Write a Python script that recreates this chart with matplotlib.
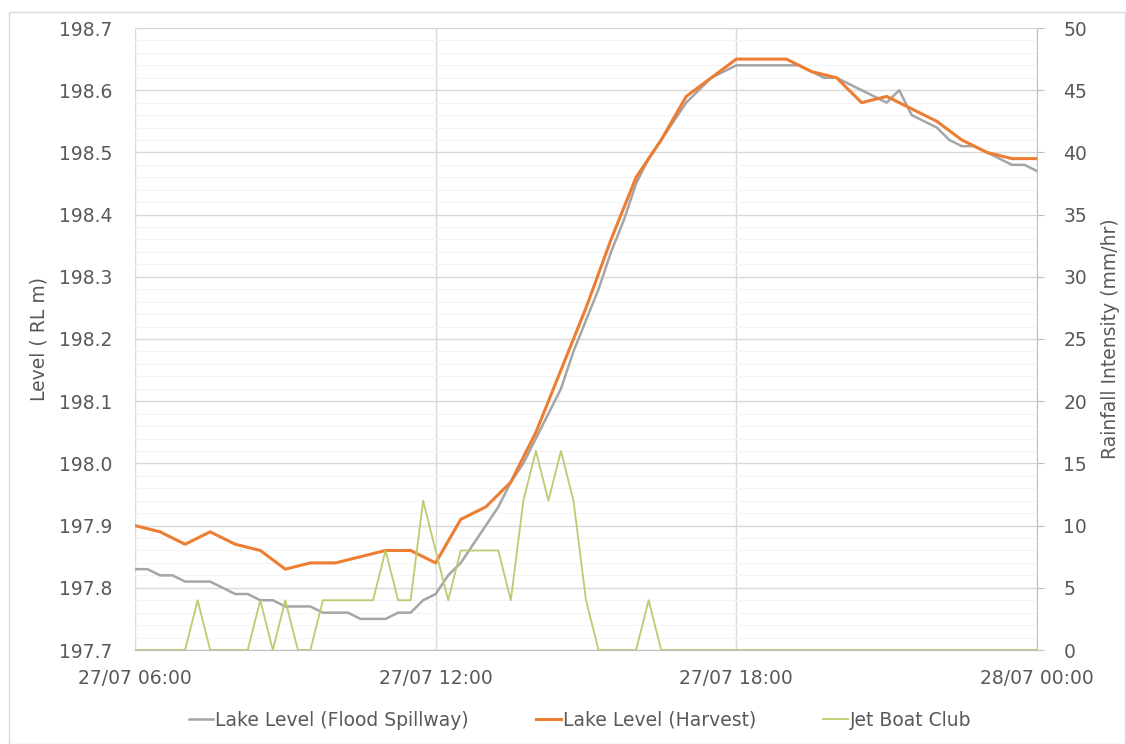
import matplotlib
matplotlib.use('Agg')
import matplotlib.pyplot as plt
import matplotlib.dates as mdates
import pandas as pd
from matplotlib.patches import Rectangle

# lake level, Flood Spillway gauge (15 min)
spillway = [197.83, 197.83, 197.82, 197.82, 197.81, 197.81, 197.81, 197.80, 197.79, 197.79,
            197.78, 197.78, 197.77, 197.77, 197.77, 197.76, 197.76, 197.76, 197.75, 197.75,
            197.75, 197.76, 197.76, 197.78, 197.79, 197.82, 197.84, 197.87, 197.90, 197.93,
            197.97, 198.00, 198.04, 198.08, 198.12, 198.18, 198.23, 198.28, 198.34, 198.39,
            198.45, 198.49, 198.52, 198.55, 198.58, 198.60, 198.62, 198.63, 198.64, 198.64,
            198.64, 198.64, 198.64, 198.64, 198.63, 198.62, 198.62, 198.61, 198.60, 198.59,
            198.58, 198.60, 198.56, 198.55, 198.54, 198.52, 198.51, 198.51, 198.50, 198.49,
            198.48, 198.48, 198.47]

# lake level, Harvest gauge (30 min)
harvest = [197.90, 197.89, 197.87, 197.89, 197.87, 197.86, 197.83, 197.84, 197.84, 197.85,
           197.86, 197.86, 197.84, 197.91, 197.93, 197.97, 198.05, 198.15, 198.25, 198.36,
           198.46, 198.52, 198.59, 198.62, 198.65, 198.65, 198.65, 198.63, 198.62, 198.58,
           198.59, 198.57, 198.55, 198.52, 198.50, 198.49, 198.49]

# rainfall intensity, Jet Boat Club (15 min)
rain = [0, 0, 0, 0, 0, 4, 0, 0, 0, 0, 4, 0, 4, 0, 0, 4, 4, 4, 4, 4,
        8, 4, 4, 12, 8, 4, 8, 8, 8, 8, 4, 12, 16, 12, 16, 12, 4, 0, 0, 0,
        0, 4, 0, 0, 0, 0, 0, 0, 0, 0, 0, 0, 0, 0, 0, 0, 0, 0, 0, 0,
        0, 0, 0, 0, 0, 0, 0, 0, 0, 0, 0, 0, 0]

t15 = pd.date_range('2017-07-27 06:00', periods=len(spillway), freq='15min')
t30 = pd.date_range('2017-07-27 06:00', periods=len(harvest), freq='30min')

txt = '#595959'
plt.rcParams['font.family'] = ['DejaVu Sans']

fig = plt.figure(figsize=(11.26, 7.44), dpi=100)
fig.patches.append(Rectangle((9/1126, 0), 1116/1126, 1 - 12/744, transform=fig.transFigure,
                             fill=False, edgecolor='#d9d9d9', linewidth=1))
ax = fig.add_axes([135/1126, 1 - 650/744, 902/1126, 622/744])
ax2 = ax.twinx()

l1, = ax.plot(t15, spillway, color='#a5a5a5', lw=1.8, label='Lake Level (Flood Spillway)')
l2, = ax.plot(t30, harvest, color='#ed7d31', lw=2.2, label='Lake Level (Harvest)')
l3, = ax2.plot(t15, rain, color='#bfc96f', lw=1.3, label='Jet Boat Club')

ax.set_xlim(t15[0], t15[-1])
ax.set_ylim(197.7, 198.7)
ax.set_yticks([197.7 + 0.1*i for i in range(11)])
ax.set_yticks([197.7 + 0.02*i for i in range(51)], minor=True)
ax.yaxis.set_major_formatter(matplotlib.ticker.FormatStrFormatter('%.1f'))
ax.xaxis.set_major_locator(mdates.HourLocator(byhour=[0, 6, 12, 18]))
ax.xaxis.set_major_formatter(mdates.DateFormatter('%d/%m %H:%M'))

ax2.set_ylim(0, 50)
ax2.set_yticks(range(0, 51, 5))

ax.grid(True, which='major', color='#d9d9d9', lw=1.0)
ax.grid(True, which='minor', axis='y', color='#f4f4f4', lw=0.8)
ax.set_axisbelow(True)

for a in (ax, ax2):
    for s in a.spines.values():
        s.set_visible(False)
ax2.spines['right'].set_visible(True)
ax2.spines['right'].set_color('#bfbfbf')
ax.spines['bottom'].set_visible(True)
ax.spines['bottom'].set_color('#bfbfbf')

ax.tick_params(axis='both', which='both', length=0, labelsize=13.5, labelcolor=txt)
ax.tick_params(axis='y', pad=16)
ax.tick_params(axis='x', pad=14)
ax2.tick_params(axis='y', which='major', length=5, color='#bfbfbf', labelsize=13.5,
                labelcolor=txt, pad=14)

ax.set_ylabel('Level ( RL m)', fontsize=13.5, color=txt, labelpad=8)
ax2.set_ylabel('Rainfall Intensity (mm/hr)', fontsize=13.5, color=txt, labelpad=10)

fig.legend(handles=[l1, l2, l3], loc='center', bbox_to_anchor=(580/1126, 1 - 720/744),
           ncol=3, frameon=False, fontsize=13.5, handlelength=1.3, handletextpad=0.1,
           columnspacing=3.6, labelcolor=txt)

fig.savefig('out.png', dpi=100)
